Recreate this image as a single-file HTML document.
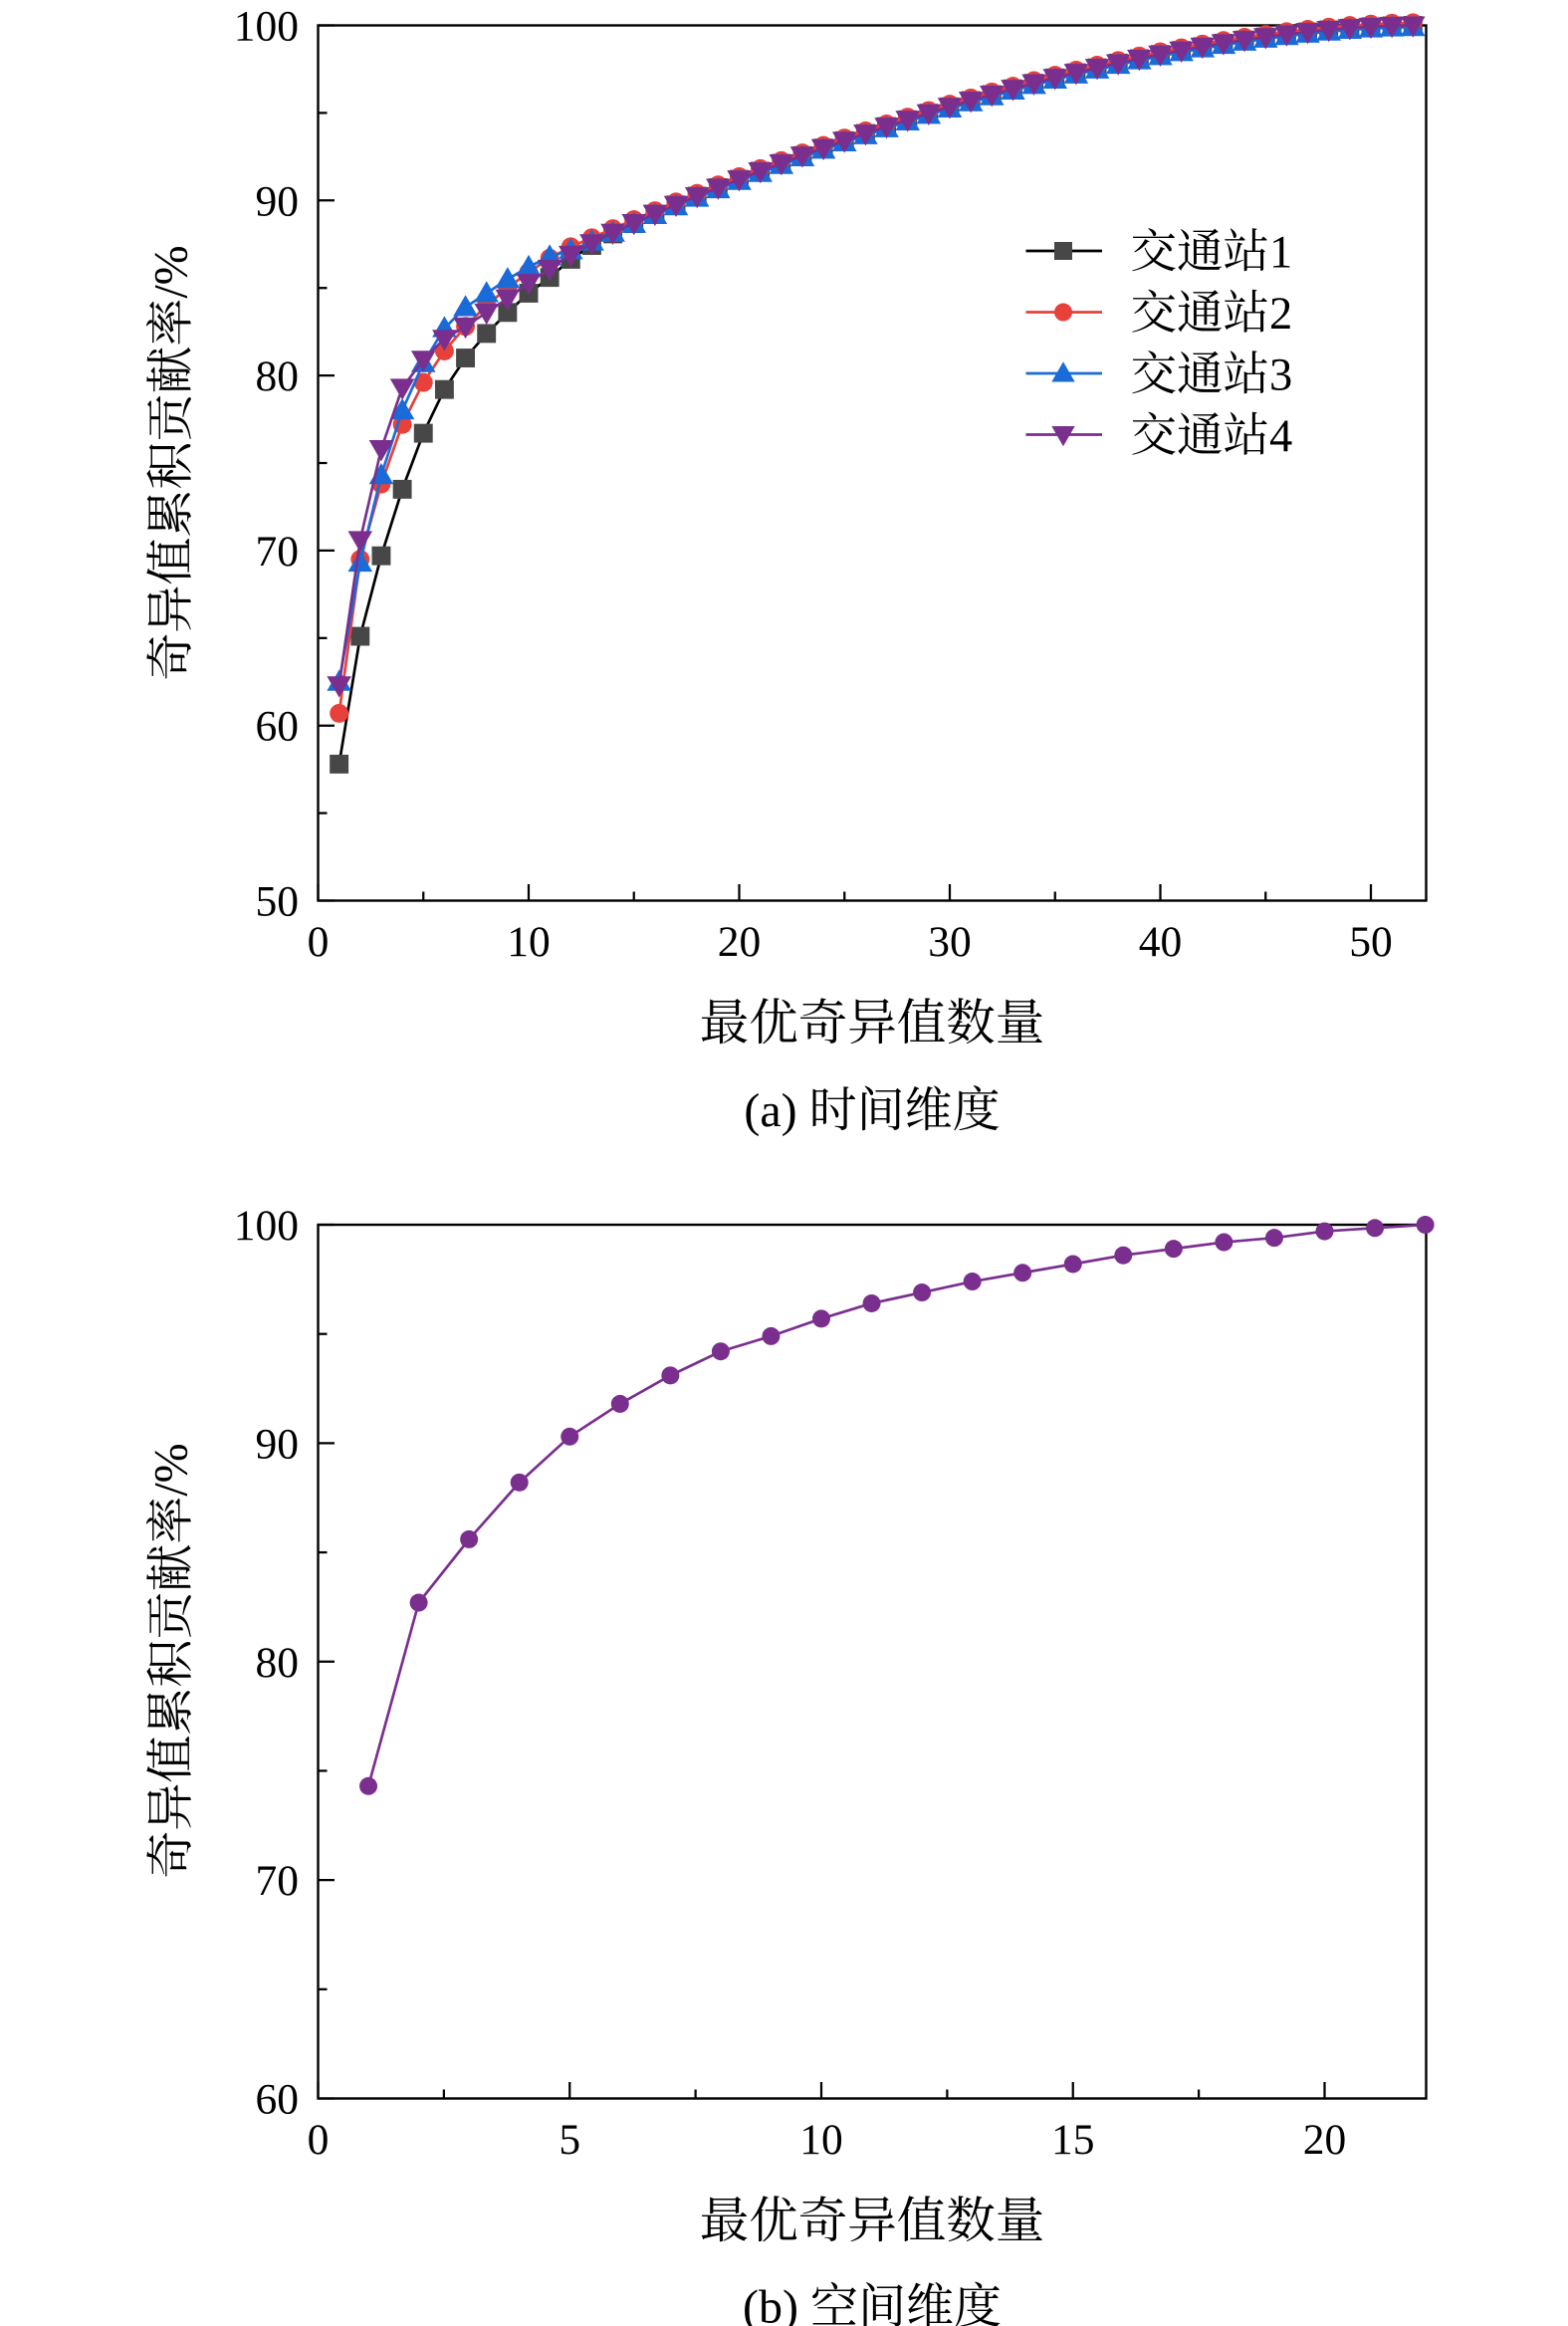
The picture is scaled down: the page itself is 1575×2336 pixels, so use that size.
<!DOCTYPE html>
<html><head><meta charset="utf-8"><style>
html,body{margin:0;padding:0;background:#fff}
svg{display:block}
text{font-family:"Liberation Serif","Noto Serif CJK SC","Noto Sans CJK SC",serif;fill:#000}
</style></head><body>
<svg id="s" width="1575" height="2336" viewBox="0 0 1050 1557.33" xmlns="http://www.w3.org/2000/svg"></svg>
<script>
const S=document.getElementById('s');let h='';
const A={x0:213,xs:14.1,y0:603,ys:11.72};
function ax(n){return A.x0+n*A.xs} function ay(v){return A.y0-(v-50)*A.ys}
h+=`<rect x="213" y="17" width="742" height="586" fill="none" stroke="#000" stroke-width="1.6"/>`;
for(let v=50;v<=100;v+=5){const y=ay(v);h+=`<line x1="213" x2="${v%10?219:224}" y1="${y}" y2="${y}" stroke="#000" stroke-width="1.5"/>`;if(v%10==0)h+=`<text x="200" y="${y+10}" font-size="29" text-anchor="end">${v}</text>`}
for(let n=0;n<=50;n+=5){const x=ax(n);h+=`<line x1="${x}" x2="${x}" y1="603" y2="${n%10?597:592}" stroke="#000" stroke-width="1.5"/>`;if(n%10==0)h+=`<text x="${x}" y="640" font-size="29" text-anchor="middle">${n}</text>`}
h+=`<text x="584" y="696" font-size="33" text-anchor="middle">最优奇异值数量</text>`;
h+=`<text x="584" y="754" font-size="32" text-anchor="middle">(a)  时间维度</text>`;
h+=`<text transform="translate(125,310) rotate(-90)" font-size="32" text-anchor="middle">奇异值累积贡献率/%</text>`;
const ser=[
{c:'#000',mc:'#474747',m:'sq',d:[57.8,65.1,69.7,73.5,76.7,79.2,81.0,82.4,83.6,84.7,85.6]},
{c:'#e8403a',mc:'#e8403a',m:'ci',d:[60.7,69.5,73.8,77.2,79.6,81.4,82.8,84.0,85.0,85.9,86.7]},
{c:'#1a6bd8',mc:'#1a6bd8',m:'up',d:[62.5,69.3,74.3,78.0,80.7,82.7,83.9,84.7,85.5,86.2,86.8]},
{c:'#7a2f8e',mc:'#7a2f8e',m:'dn',d:[62.3,70.6,75.8,79.3,80.9,82.1,82.8,83.6,84.4,85.3,86.1]}];
function mk(t,x,y,c,r){
 if(t=='sq')return `<rect x="${x-r}" y="${y-r}" width="${2*r}" height="${2*r}" fill="${c}"/>`;
 if(t=='ci')return `<circle cx="${x}" cy="${y}" r="${r}" fill="${c}"/>`;
 if(t=='up')return `<polygon points="${x},${y-r*1.3} ${x-r*1.3},${y+r*0.95} ${x+r*1.3},${y+r*0.95}" fill="${c}"/>`;
 return `<polygon points="${x},${y+r*1.3} ${x-r*1.3},${y-r*0.95} ${x+r*1.3},${y-r*0.95}" fill="${c}"/>`;}
function base(n){return 100-13.4*Math.pow((52-n)/41,1.7)}
ser.forEach((s,k)=>{const off=base(11)-s.d[10];const pts=[];
 for(let n=1;n<=52;n++){let v=n<=11?s.d[n-1]:base(n)-off*Math.exp(-(n-11)/1.5)+(k==1?0.15:k==2?-0.1:0);pts.push([ax(n),ay(v)])}
 h+=`<polyline points="${pts.map(p=>p.join(',')).join(' ')}" fill="none" stroke="${s.c}" stroke-width="1.8"/>`;
 pts.forEach(p=>h+=mk(s.m,p[0],p[1],s.mc,6.3));
 const ly=168+41*k;h+=`<line x1="687" x2="738" y1="${ly}" y2="${ly}" stroke="${s.c}" stroke-width="1.8"/>`+mk(s.m,712,ly,s.mc,6);
 h+=`<text x="757" y="${ly+11}" font-size="31">交通站${k+1}</text>`;
});
const B={x0:213,y0:1405,xs:33.7,ys:14.625};
function bx(n){return B.x0+n*B.xs} function by(v){return B.y0-(v-60)*B.ys}
h+=`<rect x="213" y="820" width="742" height="585" fill="none" stroke="#000" stroke-width="1.6"/>`;
for(let v=60;v<=100;v+=5){const y=by(v);h+=`<line x1="213" x2="${v%10?219:224}" y1="${y}" y2="${y}" stroke="#000" stroke-width="1.5"/>`;if(v%10==0)h+=`<text x="200" y="${y+10}" font-size="29" text-anchor="end">${v}</text>`}
for(let n=0;n<=20;n+=2.5){const x=bx(n);h+=`<line x1="${x}" x2="${x}" y1="1405" y2="${n%5?1399:1394}" stroke="#000" stroke-width="1.5"/>`;if(n%5==0)h+=`<text x="${x}" y="1442" font-size="29" text-anchor="middle">${n}</text>`}
h+=`<text x="584" y="1498" font-size="33" text-anchor="middle">最优奇异值数量</text>`;
h+=`<text x="584" y="1555" font-size="32" text-anchor="middle">(b)  空间维度</text>`;
h+=`<text transform="translate(125,1112) rotate(-90)" font-size="32" text-anchor="middle">奇异值累积贡献率/%</text>`;
const bd=[74.3,82.7,85.6,88.2,90.3,91.8,93.1,94.2,94.9,95.7,96.4,96.9,97.4,97.8,98.2,98.6,98.9,99.2,99.4,99.7,99.85,100];
const bp=bd.map((v,i)=>[bx(i+1),by(v)]);
h+=`<polyline points="${bp.map(p=>p.join(',')).join(' ')}" fill="none" stroke="#7a2f8e" stroke-width="1.8"/>`;
bp.forEach(p=>h+=`<circle cx="${p[0]}" cy="${p[1]}" r="6" fill="#7a2f8e"/>`);
S.innerHTML=h;
</script>
</body></html>
